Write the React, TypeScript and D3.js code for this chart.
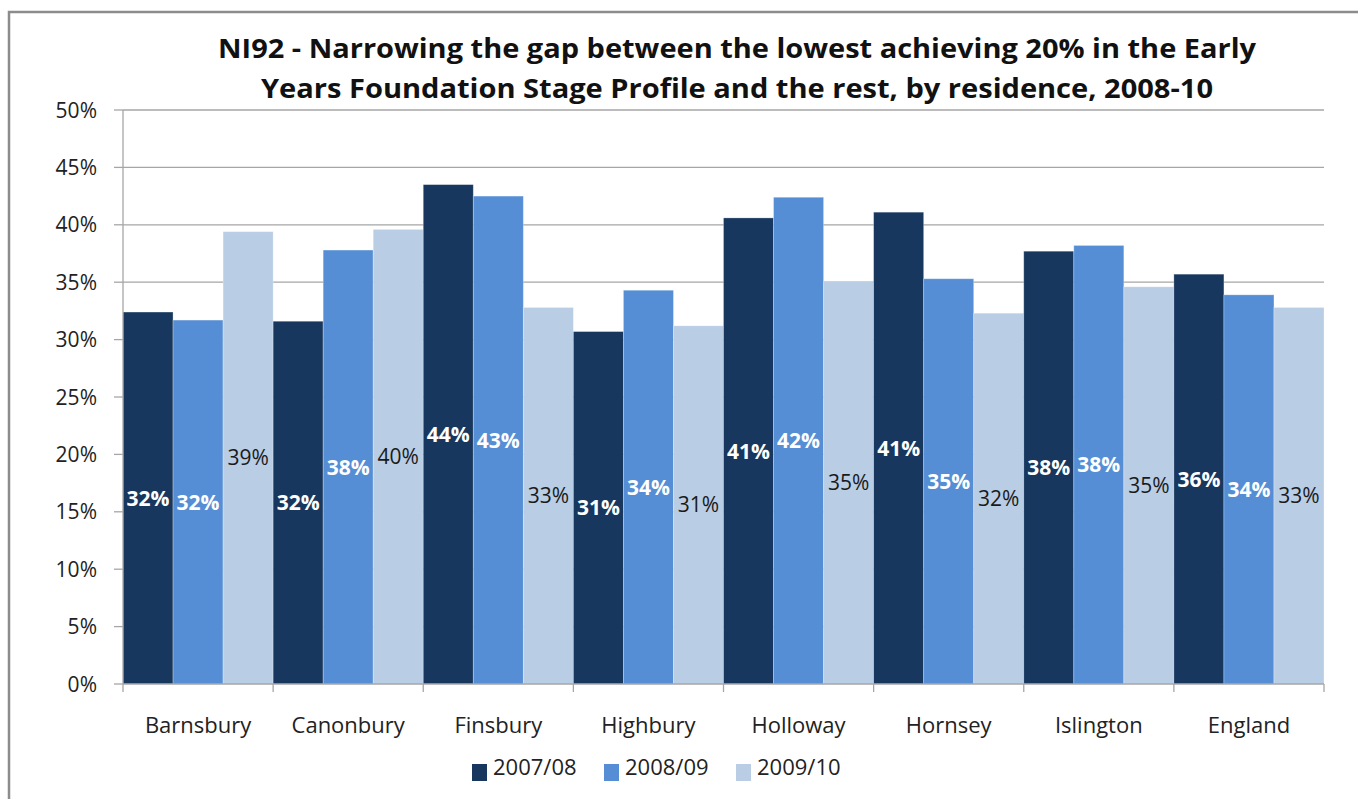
import React from 'react';
import * as d3 from 'd3';

const categories = ['Barnsbury', 'Canonbury', 'Finsbury', 'Highbury', 'Holloway', 'Hornsey', 'Islington', 'England'];
const seriesNames = ['2007/08', '2008/09', '2009/10'];
const values0708 = [32.4, 31.6, 43.5, 30.7, 40.6, 41.1, 37.7, 35.7];
const values0809 = [31.7, 37.8, 42.5, 34.3, 42.4, 35.3, 38.2, 33.9];
const values0910 = [39.4, 39.6, 32.8, 31.2, 35.1, 32.3, 34.6, 32.8];
const yTicks = [0, 5, 10, 15, 20, 25, 30, 35, 40, 45, 50];
const titleLines = [
  'NI92 - Narrowing the gap between the lowest achieving 20% in the Early',
  'Years Foundation Stage Profile and the rest, by residence, 2008-10',
];
const titleWidths = [1038, 952];

const colors = ['#17375e', '#558ed5', '#b9cde5'];
const labelColors = ['#ffffff', '#ffffff', '#1a1a1a'];
const labelWeights = [700, 700, 400];

const W = 1358;
const H = 799;
const font = '"Open Sans", "Noto Sans", sans-serif';

export default function App() {
  const margin = { left: 123, right: 1324, top: 110, bottom: 684 };
  const series = [values0708, values0809, values0910];

  const x = d3.scaleBand<string>().domain(categories).range([margin.left, margin.right]).padding(0);
  const xs = d3.scaleBand<number>().domain([0, 1, 2]).range([0, x.bandwidth()]).padding(0);
  const y = d3.scaleLinear().domain([0, 50]).range([margin.bottom, margin.top]);

  const boundaries = [...categories.map((c) => x(c)!), margin.right];

  return (
    <svg width={W} height={H} style={{ position: 'absolute', left: 0, top: 0, background: '#fff' }}>
      <rect x={9} y={12} width={W + 20} height={H + 20} fill="#fff" stroke="#8c8c8c" strokeWidth={2.5} />

      {titleLines.map((t, i) => (
        <text
          key={t}
          x={737}
          y={58 + i * 40}
          textAnchor="middle"
          fontFamily={font}
          fontWeight={700}
          fontSize={26}
          fill="#111"
          textLength={titleWidths[i]}
          lengthAdjust="spacingAndGlyphs"
        >
          {t}
        </text>
      ))}

      {/* gridlines + y ticks */}
      {yTicks.map((t) => (
        <g key={t}>
          {t > 0 && <line x1={margin.left} x2={margin.right} y1={y(t)} y2={y(t)} stroke="#a6a6a6" strokeWidth={1.3} />}
          <line x1={114} x2={margin.left} y1={y(t)} y2={y(t)} stroke="#a6a6a6" strokeWidth={1.3} />
          <text x={97} y={y(t)} dy="0.36em" textAnchor="end" fontFamily={font} fontSize={21} fill="#222">
            {t}%
          </text>
        </g>
      ))}

      {/* bars */}
      {categories.map((c, ci) => (
        <g key={c} transform={`translate(${x(c)},0)`}>
          {series.map((vals, si) => (
            <rect
              key={si}
              x={xs(si)}
              y={y(vals[ci])}
              width={xs.bandwidth()}
              height={y(0) - y(vals[ci])}
              fill={colors[si]}
              stroke="#ffffff"
              strokeOpacity={0.35}
              strokeWidth={0.8}
            />
          ))}
        </g>
      ))}

      {/* data labels */}
      {categories.map((c, ci) => (
        <g key={c + 'l'} transform={`translate(${x(c)},0)`}>
          {series.map((vals, si) => (
            <text
              key={si}
              x={xs(si)! + xs.bandwidth() / 2}
              y={(y(vals[ci]) + y(0)) / 2}
              dy="0.36em"
              textAnchor="middle"
              fontFamily={font}
              fontSize={21}
              fontWeight={labelWeights[si]}
              fill={labelColors[si]}
            >
              {Math.round(vals[ci])}%
            </text>
          ))}
        </g>
      ))}

      {/* axes */}
      <line x1={margin.left} x2={margin.left} y1={margin.top} y2={margin.bottom} stroke="#a6a6a6" strokeWidth={1.3} />
      <line x1={margin.left} x2={margin.right} y1={margin.bottom} y2={margin.bottom} stroke="#a6a6a6" strokeWidth={1.3} />
      {boundaries.map((b, i) => (
        <line key={i} x1={b} x2={b} y1={margin.bottom} y2={692} stroke="#a6a6a6" strokeWidth={1.3} />
      ))}
      {categories.map((c) => (
        <text key={c + 'x'} x={x(c)! + x.bandwidth() / 2} y={733} textAnchor="middle" fontFamily={font} fontSize={22} fill="#222">
          {c}
        </text>
      ))}

      {/* legend */}
      {seriesNames.map((s, i) => (
        <g key={s} transform={`translate(${472 + i * 132},0)`}>
          <rect x={0} y={764} width={15} height={17} fill={colors[i]} />
          <text x={21} y={774} dy="0.05em" fontFamily={font} fontSize={22} fill="#222">
            {s}
          </text>
        </g>
      ))}
    </svg>
  );
}
